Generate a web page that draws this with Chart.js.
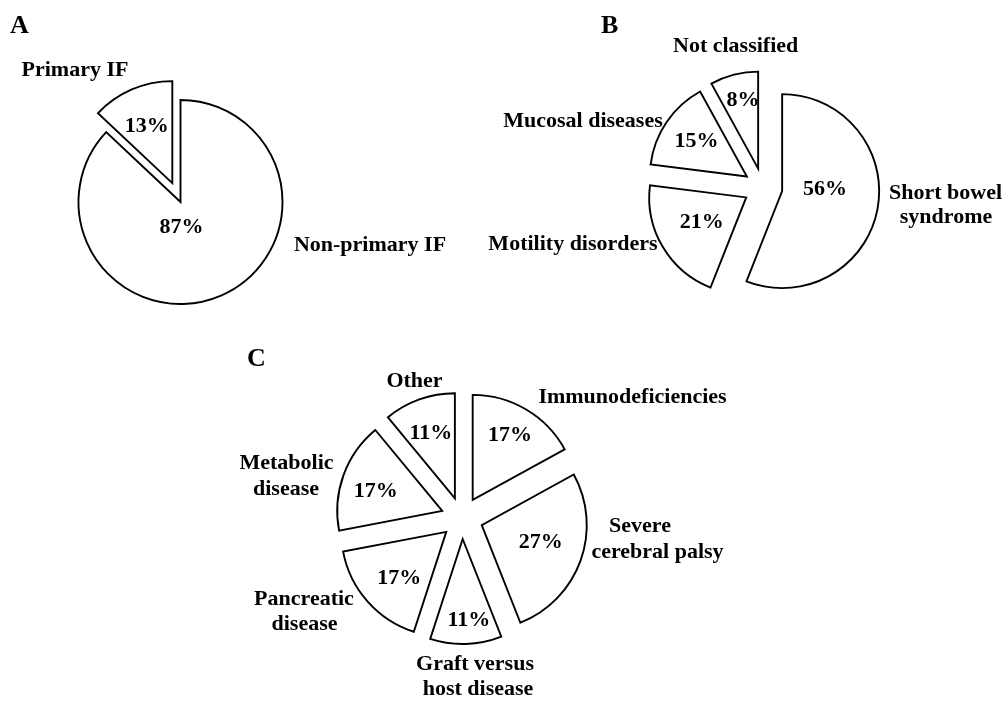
<!DOCTYPE html>
<html>
<head>
<meta charset="utf-8">
<script src="https://cdn.jsdelivr.net/npm/chart.js@4.4.0/dist/chart.umd.min.js"></script>
<style>
    html, body { margin: 0; padding: 0; background: #fff; }
    #wrap { position: relative; width: 1004px; height: 702px; }
    #wrap canvas { position: absolute; left: 0; top: 0; }
</style>
</head>
<body>
<div id="wrap">
    <canvas id="pieA" width="1004" height="702"></canvas>
    <canvas id="pieB" width="1004" height="702"></canvas>
    <canvas id="pieC" width="1004" height="702"></canvas>
</div>
<script>
// ===== data =====
const labelsA = ["Non-primary IF", "Primary IF"];
const valuesA = [87, 13];

const labelsB = [["Short bowel", "syndrome"], "Motility disorders", "Mucosal diseases", "Not classified"];
const valuesB = [56, 21, 15, 8];

const labelsC = ["Immunodeficiencies", ["Severe", "cerebral palsy"], ["Graft versus", "host disease"],
    ["Pancreatic", "disease"], ["Metabolic", "disease"], "Other"];
const valuesC = [17, 27, 11, 17, 17, 11];

const W = 1004, H = 702;
const FONT_FAMILY = "'Liberation Serif', 'Times New Roman', Times, serif";
const TEXT_SIZE = 22;

// pull slices out along their mid angle (px), without changing the radius
const explodePlugin = {
    id: "explode",
    afterDatasetUpdate(chart, args, opts) {
        const dist = opts.dist || [];
        args.meta.data.forEach((arc, i) => {
            const d = dist[i] || 0;
            const mid = (arc.startAngle + arc.endAngle) / 2;
            arc.x += Math.cos(mid) * d;
            arc.y += Math.sin(mid) * d;
        });
    }
};

// percentages inside slices + category names + panel letter
const pieTextPlugin = {
    id: "pieText",
    afterDraw(chart, args, opts) {
        const ctx = chart.ctx;
        const meta = chart.getDatasetMeta(0);
        const values = chart.data.datasets[0].data;
        const labels = chart.data.labels;

        ctx.save();
        ctx.fillStyle = "#000";
        ctx.textBaseline = "alphabetic";
        ctx.font = "bold " + TEXT_SIZE + "px " + FONT_FAMILY;

        // percentages
        ctx.textAlign = "center";
        meta.data.forEach((arc, i) => {
            const p = opts.pctAt[i] || [0.6, 0];
            const a = (arc.startAngle + arc.endAngle) / 2 + p[1] * Math.PI / 180;
            const r = arc.outerRadius * p[0];
            ctx.fillText(values[i] + "%", arc.x + Math.cos(a) * r, arc.y + Math.sin(a) * r + TEXT_SIZE * 0.34);
        });

        // names
        labels.forEach((lab, i) => {
            const n = opts.names[i];
            if (!n) return;
            const lines = Array.isArray(lab) ? lab : [lab];
            ctx.textAlign = n.align || "center";
            lines.forEach((line, k) => {
                const x = Array.isArray(n.x) ? n.x[k] : n.x;
                ctx.fillText(line, x, n.y + k * (n.lh || 25));
            });
        });

        // panel letter
        ctx.font = "bold 26px " + FONT_FAMILY;
        ctx.textAlign = "left";
        ctx.fillText(opts.panel.text, opts.panel.x, opts.panel.y);
        ctx.restore();
    }
};

function makePie(canvasId, labels, values, cfg) {
    const half = 50;
    return new Chart(document.getElementById(canvasId), {
        type: "pie",
        data: {
            labels: labels,
            datasets: [{
                data: values,
                backgroundColor: "#ffffff",
                borderColor: "#000000",
                borderWidth: 1.9,
                borderJoinStyle: "miter",
                radius: cfg.r,
                clip: false
            }]
        },
        options: {
            responsive: false,
            animation: false,
            events: [],
            layout: {
                padding: {
                    left: cfg.cx - half,
                    right: W - cfg.cx - half,
                    top: cfg.cy - half,
                    bottom: H - cfg.cy - half
                }
            },
            plugins: {
                legend: { display: false },
                tooltip: { enabled: false },
                explode: { dist: cfg.explode },
                pieText: { pctAt: cfg.pctAt, names: cfg.names, panel: cfg.panel }
            }
        },
        plugins: [explodePlugin, pieTextPlugin]
    });
}

// A
makePie("pieA", labelsA, valuesA, {
    cx: 180.5, cy: 202, r: 102,
    explode: [0, 20.6],
    pctAt: [[0.235, 21], [0.63, 0]],
    names: [
        { x: 370, y: 251 },
        { x: 75, y: 76 }
    ],
    panel: { text: "A", x: 10, y: 33 }
});

// B
makePie("pieB", labelsB, valuesB, {
    cx: 763, cy: 187.5, r: 97,
    explode: [19.5, 19.5, 19.5, 19.5],
    pctAt: [[0.443, -15.6], [0.514, 3.6], [0.643, 2], [0.741, 2.3]],
    names: [
        { x: [945.5, 946], y: 199, lh: 24 },
        { x: 573, y: 250 },
        { x: 583, y: 127 },
        { x: 673, y: 52, align: "left" }
    ],
    panel: { text: "B", x: 601, y: 33 }
});

// C
makePie("pieC", labelsC, valuesC, {
    cx: 462, cy: 518, r: 105,
    explode: [21, 21, 21, 21, 21, 21],
    pctAt: [[0.727, -1.3], [0.581, -4.9], [0.764, -2.7], [0.619, -2.2], [0.666, -1.8], [0.673, 0]],
    names: [
        { x: 632.5, y: 403 },
        { x: [640, 657.5], y: 532, lh: 25.5 },
        { x: [475, 478], y: 670, lh: 25 },
        { x: [304, 304.5], y: 605, lh: 25 },
        { x: [286.5, 286], y: 468.5, lh: 26.5 },
        { x: 414.5, y: 387 }
    ],
    panel: { text: "C", x: 247, y: 366 }
});
</script>
</body>
</html>
